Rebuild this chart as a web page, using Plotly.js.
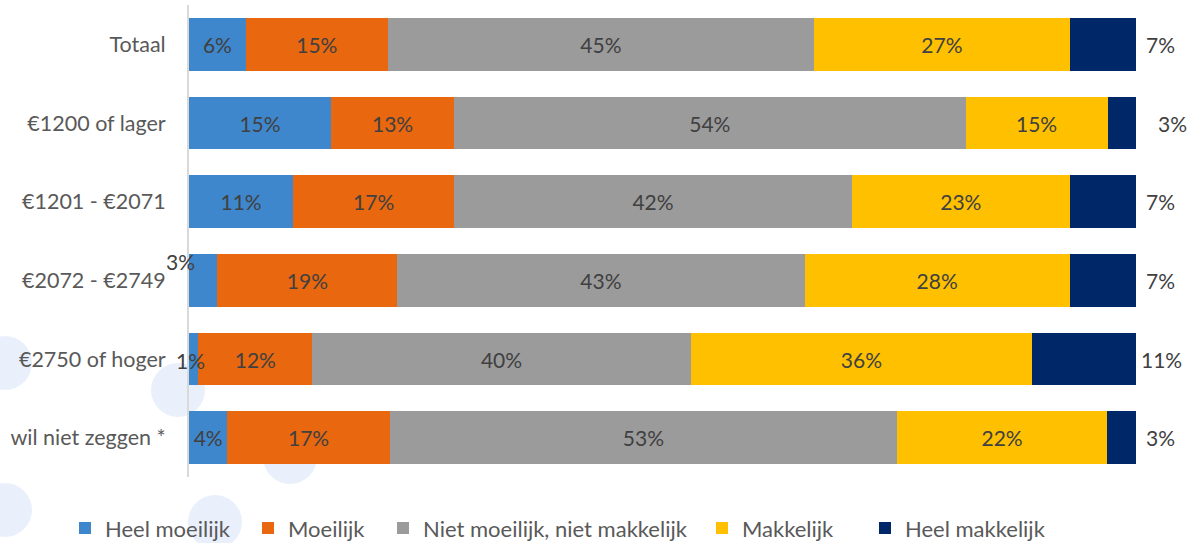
<!DOCTYPE html>
<html>
<head>
<meta charset="utf-8">
<script src="https://cdn.plot.ly/plotly-3.0.1.min.js"></script>
<style>html,body{margin:0;padding:0;background:#fff;}#chart{width:1201px;height:543px;}</style>
</head>
<body>
<div id="chart"></div>
<script>
const categories = ["Totaal", "€1200 of lager", "€1201 - €2071", "€2072 - €2749", "€2750 of hoger", "wil niet zeggen *"];
const seriesNames = ["Heel moeilijk", "Moeilijk", "Niet moeilijk, niet makkelijk", "Makkelijk", "Heel makkelijk"];
const heelMoeilijk = [6, 15, 11, 3, 1, 4];
const moeilijk = [15, 13, 17, 19, 12, 17];
const nietMoeilijk = [45, 54, 42, 43, 40, 53];
const makkelijk = [27, 15, 23, 28, 36, 22];
const heelMakkelijk = [7, 3, 7, 7, 11, 3];
const colors = ["#3F87CC", "#E8670F", "#9B9B9B", "#FFC000", "#002868"];

const series = [heelMoeilijk, moeilijk, nietMoeilijk, makkelijk, heelMakkelijk];
const FONT = "Lato, 'Open Sans', sans-serif";
const LBL = 21;
const legendIds = ["legend", "legend2", "legend3", "legend4", "legend5"];
const legendLeftPx = [65, 248, 383, 702, 865];

const traces = series.map((vals, i) => {
  const text = vals.map(v => {
    if (i === 4) return "";
    if (i === 0 && v <= 3) return "";
    return v + "%";
  });
  return {
    type: "bar",
    orientation: "h",
    name: seriesNames[i],
    legend: legendIds[i],
    y: categories,
    x: vals,
    text: text,
    texttemplate: "%{text}",
    textposition: "inside",
    insidetextanchor: "middle",
    constraintext: "none",
    textfont: {family: FONT, size: LBL, color: "#404040"},
    marker: {color: colors[i], line: {width: 0}},
    width: 0.67,
    hoverinfo: "name+x"
  };
});

const annotations = [];
heelMakkelijk.forEach((v, k) => {
  annotations.push({
    x: 100, y: categories[k], xref: "x", yref: "y",
    text: v + "%", showarrow: false, xanchor: "left",
    xshift: categories[k] === "€1200 of lager" ? 20 : (v >= 10 ? 3 : 8),
    font: {family: FONT, size: LBL, color: "#404040"}
  });
});
heelMoeilijk.forEach((v, k) => {
  if (v > 3) return;
  const above = v === 3;
  annotations.push({
    x: 0, y: categories[k], xref: "x", yref: "y",
    text: v + "%", showarrow: false, xanchor: "center",
    xshift: above ? -9 : 1, yshift: above ? 19 : -1,
    font: {family: FONT, size: LBL, color: "#404040"}
  });
});

const circles = [[5, 363], [178, 390], [290, 457], [5, 510], [215, 522]];
const L = 189, R = 1136, T = 5, B = 477;
const shapes = circles.map(([px, py]) => ({
  type: "circle", layer: "below",
  xref: "paper", yref: "paper",
  xsizemode: "pixel", ysizemode: "pixel",
  xanchor: (px - L) / (R - L), yanchor: (B - py) / (B - T),
  x0: -27, x1: 27, y0: -27, y1: 27,
  fillcolor: "#E9F0FC", line: {width: 0}
}));
shapes.push({
  type: "line", xref: "x", yref: "y", xsizemode: "pixel",
  xanchor: 100, x0: 3, x1: 16, y0: categories[1], y1: categories[1],
  line: {color: "#A6A6A6", width: 1.5}
});

const layout = {
  width: 1201, height: 543,
  margin: {l: L, r: 1201 - R, t: T, b: 543 - B, pad: 0, autoexpand: false},
  paper_bgcolor: "rgba(0,0,0,0)",
  plot_bgcolor: "rgba(0,0,0,0)",
  barmode: "stack",
  barnorm: "percent",
  font: {family: FONT, color: "#595959", size: 20},
  xaxis: {range: [0, 100], visible: false, fixedrange: true},
  yaxis: {
    autorange: "reversed",
    showline: true, linecolor: "#D9D9D9", linewidth: 2,
    showgrid: false, zeroline: false,
    ticks: "outside", ticklen: 17, tickcolor: "rgba(0,0,0,0)",
    tickfont: {family: FONT, size: 21.5, color: "#595959"},
    fixedrange: true
  },
  showlegend: true,
  annotations: annotations,
  shapes: shapes
};
legendIds.forEach((id, i) => {
  layout[id] = {
    orientation: "h", x: (legendLeftPx[i] - L) / (R - L), xanchor: "left",
    y: -0.064, yanchor: "top",
    font: {family: FONT, size: 22, color: "#595959"},
    itemwidth: 30, bgcolor: "rgba(0,0,0,0)"
  };
});

Plotly.newPlot("chart", traces, layout, {displayModeBar: false, staticPlot: true});
</script>
</body>
</html>
